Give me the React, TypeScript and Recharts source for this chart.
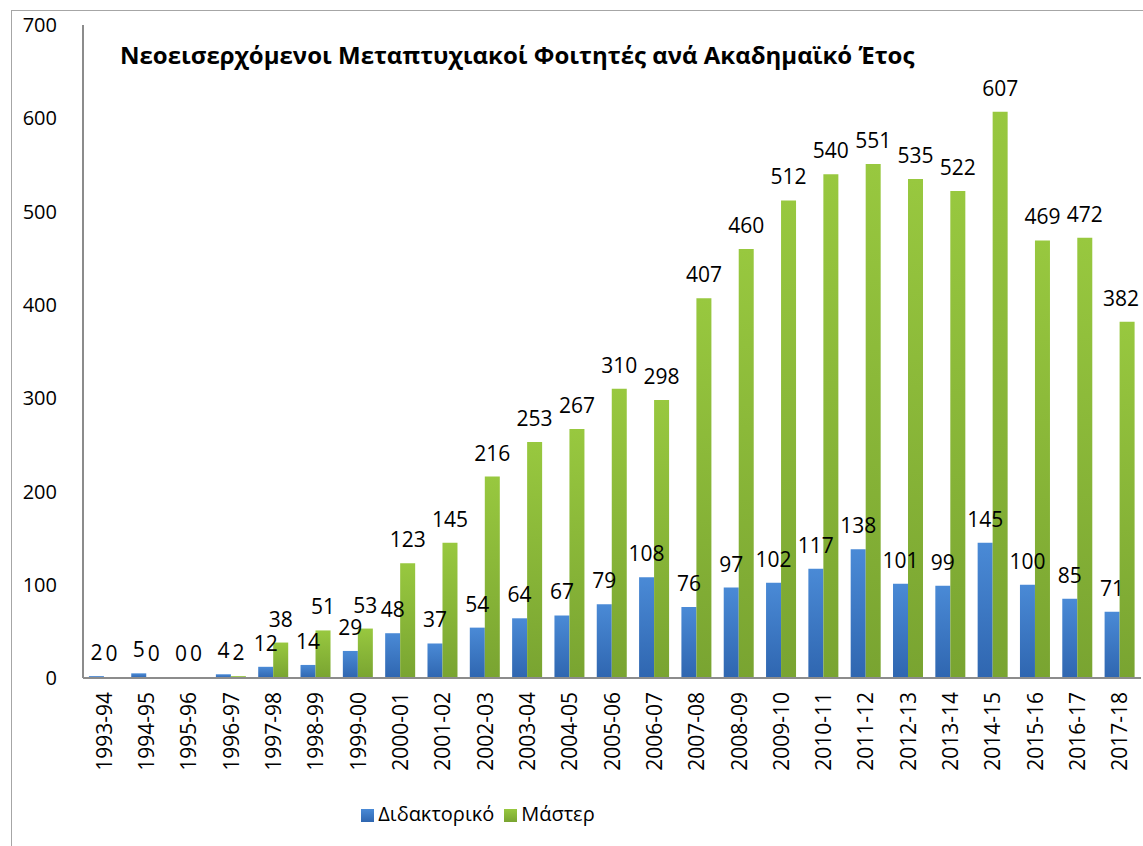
import React from 'react';
import { BarChart, Bar, XAxis, YAxis, Legend, LabelList } from 'recharts';

const years = [
  '1993-94', '1994-95', '1995-96', '1996-97', '1997-98', '1998-99', '1999-00',
  '2000-01', '2001-02', '2002-03', '2003-04', '2004-05', '2005-06', '2006-07',
  '2007-08', '2008-09', '2009-10', '2010-11', '2011-12', '2012-13', '2013-14',
  '2014-15', '2015-16', '2016-17', '2017-18',
];
const doctorate = [2, 5, 0, 4, 12, 14, 29, 48, 37, 54, 64, 67, 79, 108, 76, 97, 102, 117, 138, 101, 99, 145, 100, 85, 71];
const master = [0, 0, 0, 2, 38, 51, 53, 123, 145, 216, 253, 267, 310, 298, 407, 460, 512, 540, 551, 535, 522, 607, 469, 472, 382];
const yTicks = [0, 100, 200, 300, 400, 500, 600, 700];

const data = years.map((y, i) => ({ year: y, phd: doctorate[i], msc: master[i] }));

const FONT = '"Open Sans", "Noto Sans", sans-serif';

const YearTick = (props: any) => {
  const { x, y, payload } = props;
  return (
    <g transform={`translate(${x},${y + 14})`}>
      <text transform="rotate(-90)" textAnchor="end" dy="0.36em" fontSize={21} fill="#000">
        {payload.value}
      </text>
    </g>
  );
};

// label above a bar, kept inside the plot on the right side
const TopLabel = (props: any) => {
  const { x, y, width, value } = props;
  if (x == null || y == null) return null;
  const cx = Math.min(Number(x) + Number(width) / 2, 1121);
  return (
    <text x={cx} y={Number(y) - 16} textAnchor="middle" fontSize={21} fill="#000">
      {String(value)}
    </text>
  );
};

const App: React.FC = () => {
  return (
    <div style={{ position: 'absolute', left: 0, top: 0, width: 1143, height: 846, fontFamily: FONT, background: '#fff' }}>
      <div
        style={{
          position: 'absolute', left: 11, top: 10, width: 1132, height: 836,
          borderLeft: '1.5px solid #a6a6a6', borderTop: '1.5px solid #a6a6a6',
        }}
      />
      <div
        style={{
          position: 'absolute', left: 120, top: 38, fontSize: 24, fontWeight: 700,
          color: '#000', whiteSpace: 'nowrap', zIndex: 2,
        }}
      >
        Νεοεισερχόμενοι Μεταπτυχιακοί Φοιτητές ανά Ακαδημαϊκό Έτος
      </div>
      <BarChart
        width={1143}
        height={846}
        data={data}
        margin={{ top: 25, right: 2, left: 0, bottom: 18 }}
        barCategoryGap="14%"
        barGap={0}
      >
        <defs>
          <linearGradient id="blueFill" x1="0" y1="0" x2="0" y2="1">
            <stop offset="0%" stopColor="#4a8ad6" />
            <stop offset="100%" stopColor="#2f66b0" />
          </linearGradient>
          <linearGradient id="greenFill" x1="0" y1="0" x2="0" y2="1">
            <stop offset="0%" stopColor="#98c83f" />
            <stop offset="100%" stopColor="#79a431" />
          </linearGradient>
        </defs>
        <XAxis
          dataKey="year"
          height={110}
          interval={0}
          tick={<YearTick />}
          tickLine={false}
          tickSize={0}
          tickMargin={0}
          axisLine={{ stroke: '#8c8c8c', strokeWidth: 2 }}
        />
        <YAxis
          width={83}
          domain={[0, 700]}
          ticks={yTicks}
          tickLine={false}
          tickSize={0}
          tickMargin={26}
          tick={{ fontSize: 20, fill: '#000' }}
          axisLine={{ stroke: '#8c8c8c', strokeWidth: 2 }}
        />
        <Legend
          verticalAlign="bottom"
          height={40}
          iconType="square"
          iconSize={13}
          wrapperStyle={{ left: 243, width: 480, top: 800, fontSize: 20 }}
          formatter={(v: string) => <span style={{ color: '#000' }}>{v}</span>}
        />
        <Bar dataKey="phd" name="Διδακτορικό" fill="url(#blueFill)" minPointSize={1} isAnimationActive={false}>
          <LabelList dataKey="phd" content={<TopLabel />} />
        </Bar>
        <Bar dataKey="msc" name="Μάστερ" fill="url(#greenFill)" minPointSize={1} isAnimationActive={false}>
          <LabelList dataKey="msc" content={<TopLabel />} />
        </Bar>
      </BarChart>
    </div>
  );
};

export default App;
